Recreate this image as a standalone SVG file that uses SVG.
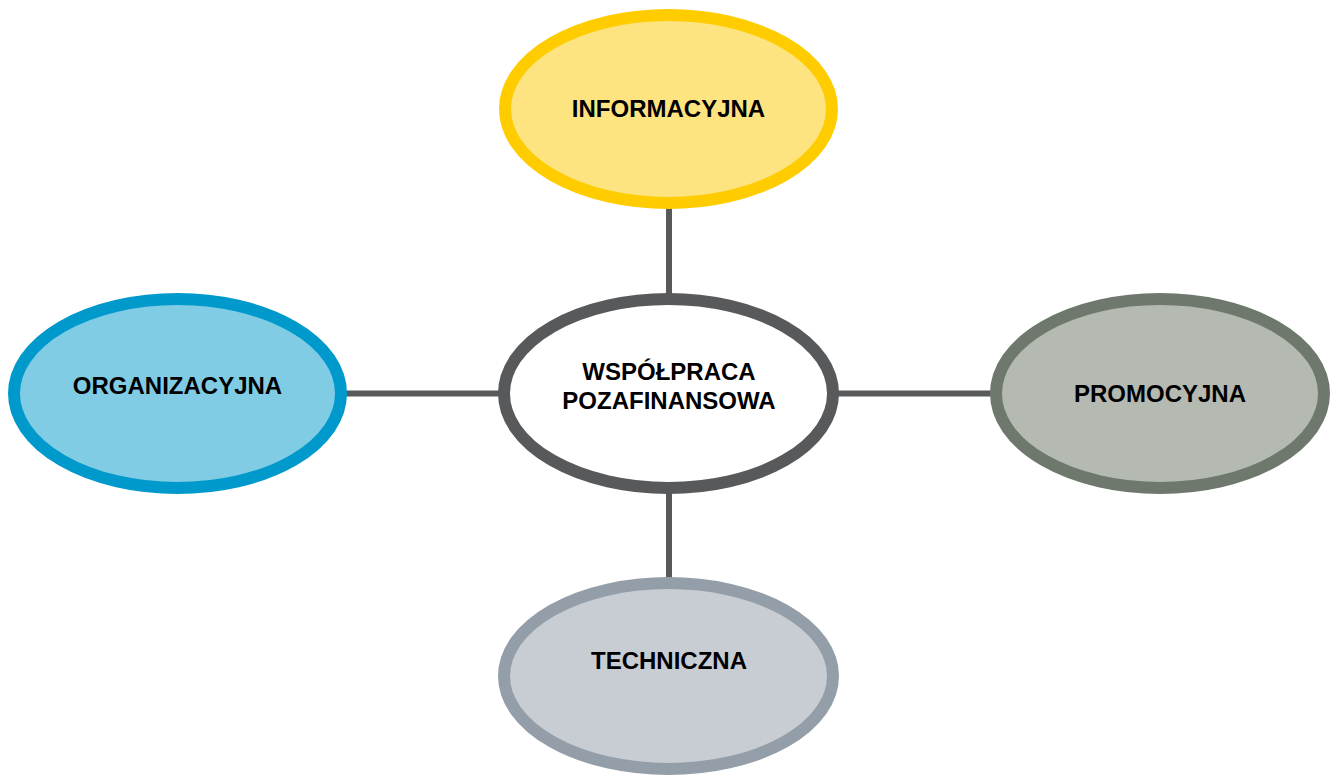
<svg xmlns="http://www.w3.org/2000/svg" width="1333" height="776" viewBox="0 0 1333 776">
<style>
.lbl{font-family:"Liberation Sans",Arial,sans-serif;font-weight:bold;font-size:24px;fill:#000;text-anchor:middle}
.con{stroke:#58595B;stroke-width:6;fill:none}
ellipse{stroke-width:12}
</style>
<rect width="1333" height="776" fill="#fff"/>
<g id="connectors">
<line class="con" x1="669" y1="205" x2="669" y2="298"/>
<line class="con" x1="669" y1="488" x2="669" y2="582"/>
<line class="con" x1="343" y1="393.5" x2="504" y2="393.5"/>
<line class="con" x1="834" y1="393.5" x2="994" y2="393.5"/>
</g>
<g id="informacyjna">
<ellipse cx="668.5" cy="109" rx="163.5" ry="94" fill="#FDE480" stroke="#FFCC00"/>
<text class="lbl" x="668.5" y="117">INFORMACYJNA</text>
</g>
<g id="center">
<ellipse cx="668.5" cy="393.5" rx="164.5" ry="94.5" fill="#FFFFFF" stroke="#58595B"/>
<text class="lbl" x="669" y="380">WSPÓŁPRACA</text>
<text class="lbl" x="669" y="409">POZAFINANSOWA</text>
</g>
<g id="organizacyjna">
<ellipse cx="177.5" cy="393.5" rx="163.5" ry="94.5" fill="#7FCCE4" stroke="#0099CC"/>
<text class="lbl" x="177.5" y="394">ORGANIZACYJNA</text>
</g>
<g id="promocyjna">
<ellipse cx="1160" cy="393.5" rx="164" ry="94.5" fill="#B4B9B1" stroke="#6E786D"/>
<text class="lbl" x="1160" y="402">PROMOCYJNA</text>
</g>
<g id="techniczna">
<ellipse cx="668.5" cy="676" rx="164.5" ry="93" fill="#C8CDD4" stroke="#939EA8"/>
<text class="lbl" x="669" y="669">TECHNICZNA</text>
</g>
</svg>
